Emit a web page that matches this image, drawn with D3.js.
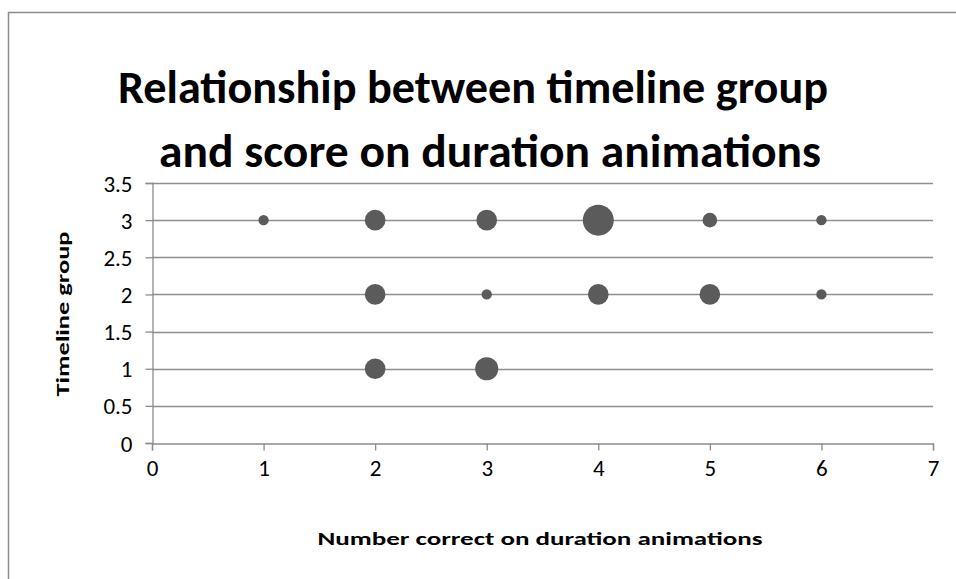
<!DOCTYPE html>
<html>
<head>
<meta charset="utf-8">
<script src="https://cdn.jsdelivr.net/npm/d3@7"></script>
<style>
  body { margin: 0; background: #fff; }
  svg { display: block; font-family: Calibri, Carlito, "Open Sans", sans-serif; }
</style>
</head>
<body>
<div class="chart"></div>
<script>
// number correct, timeline group, bubble size (count)
var scores = [1, 2, 3, 4, 5, 6, 2, 3, 4, 5, 6, 2, 3];
var groups = [3, 3, 3, 3, 3, 3, 2, 2, 2, 2, 2, 1, 1];
var counts = [1, 4, 4, 9, 2, 1, 4, 1, 4, 4, 1, 4, 5];

var xTicks = [0, 1, 2, 3, 4, 5, 6, 7];
var yTicks = [0, 0.5, 1, 1.5, 2, 2.5, 3, 3.5];

var titleLines = ["Relationship between timeline group", "and score on duration animations"];
var xTitle = "Number correct on duration animations";
var yTitle = "Timeline group";

var width = 956, height = 579;
var plot = { left: 152, right: 933, top: 183, bottom: 443 };

var svg = d3.select(".chart").append("svg")
    .attr("width", width)
    .attr("height", height);

svg.append("rect")
    .attr("width", width).attr("height", height)
    .attr("fill", "#fff");

// chart frame, runs off right and bottom
svg.append("path")
    .attr("d", "M8.5," + (height + 2) + "V12.5H" + (width + 2))
    .attr("fill", "none")
    .attr("stroke", "#8c8c8c")
    .attr("stroke-width", 1.5);

var x = d3.scaleLinear().domain([0, 7]).range([plot.left, plot.right]);
var y = d3.scaleLinear().domain([0, 3.5]).range([plot.bottom, plot.top]);
var r = d3.scaleSqrt().domain([0, 9]).range([0, 15.5]);

// gridlines
svg.append("g")
    .selectAll("line")
    .data(yTicks.filter(function (d) { return d > 0; }))
    .enter()
    .append("line")
    .attr("x1", plot.left)
    .attr("x2", plot.right)
    .attr("y1", function (d) { return Math.round(y(d)) + 0.5; })
    .attr("y2", function (d) { return Math.round(y(d)) + 0.5; })
    .attr("stroke", "#8f8f8f")
    .attr("stroke-width", 1.3);

var xAxis = svg.append("g")
    .attr("transform", "translate(0," + (Math.round(plot.bottom) + 0.5) + ")")
    .call(d3.axisBottom(x).tickValues(xTicks).tickSize(7).tickPadding(8).tickFormat(d3.format("d")));

var yAxis = svg.append("g")
    .attr("transform", "translate(" + (plot.left + 0.5) + ",0)")
    .call(d3.axisLeft(y).tickValues(yTicks).tickSize(7).tickPadding(13).tickFormat(function (d) { return d; }));

[xAxis, yAxis].forEach(function (a) {
    a.attr("font-size", 23).attr("font-family", null);
    a.select(".domain").attr("stroke", "#8c8c8c").attr("stroke-width", 1.3);
    a.selectAll(".tick line").attr("stroke", "#8c8c8c").attr("stroke-width", 1.3);
    a.selectAll(".tick text").attr("fill", "#000");
});
yAxis.selectAll(".tick text").attr("dy", "0.35em");
xAxis.selectAll(".tick text").attr("dy", "0.75em");

// bubbles
svg.append("g")
    .selectAll("circle")
    .data(scores)
    .enter()
    .append("circle")
    .attr("cx", function (d) { return x(d); })
    .attr("cy", function (d, i) { return y(groups[i]); })
    .attr("r", function (d, i) { return r(counts[i]); })
    .attr("fill", "#5b5b5b");

// title
svg.append("g")
    .selectAll("text")
    .data(titleLines)
    .enter()
    .append("text")
    .attr("x", function (d, i) { return i === 0 ? 473 : 490; })
    .attr("y", function (d, i) { return 103 + i * 64; })
    .attr("text-anchor", "middle")
    .attr("textLength", function (d, i) { return i === 0 ? 710 : 662; })
    .attr("lengthAdjust", "spacingAndGlyphs")
    .style("font-size", "46px")
    .style("font-weight", "bold")
    .attr("fill", "#000")
    .text(function (d) { return d; });

svg.append("text")
    .attr("x", 540)
    .attr("y", 545)
    .attr("text-anchor", "middle")
    .attr("textLength", 445)
    .attr("lengthAdjust", "spacingAndGlyphs")
    .style("font-size", "19px")
    .style("font-weight", "bold")
    .text(xTitle);

svg.append("text")
    .attr("transform", "translate(69,314) rotate(-90)")
    .attr("text-anchor", "middle")
    .attr("textLength", 165)
    .attr("lengthAdjust", "spacingAndGlyphs")
    .style("font-size", "19px")
    .style("font-weight", "bold")
    .text(yTitle);
</script>
</body>
</html>
